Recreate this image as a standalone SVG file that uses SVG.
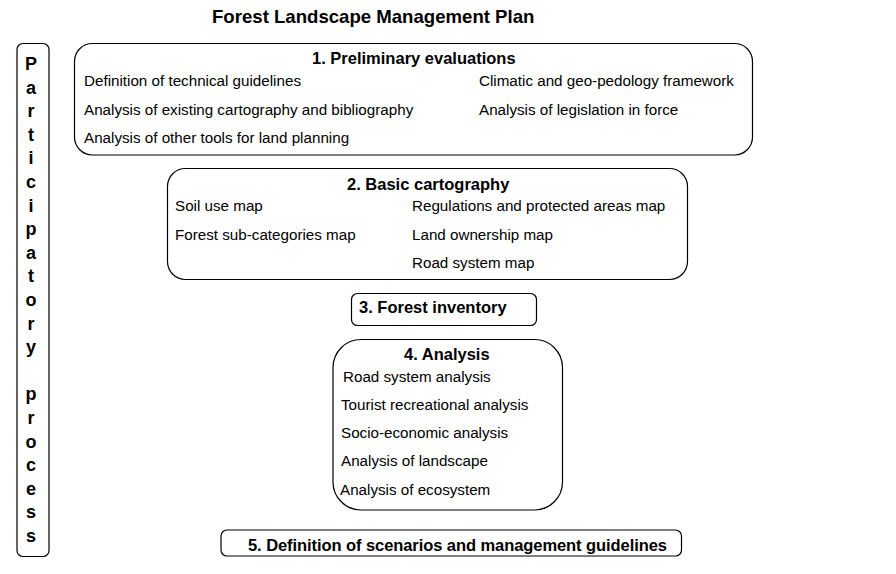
<svg xmlns="http://www.w3.org/2000/svg" width="896" height="574" viewBox="0 0 896 574">
<style>
.box{fill:#fff;stroke:#000;stroke-width:1.2}
.h{font-family:"Liberation Sans",Arial,sans-serif;font-weight:bold;font-size:16.5px;fill:#000}
.t{font-family:"Liberation Sans",Arial,sans-serif;font-size:15.2px;fill:#000}
.v{font-family:"Liberation Sans",Arial,sans-serif;font-weight:bold;font-size:18px;fill:#000;text-anchor:middle}
</style>
<rect width="896" height="574" fill="#fff"/>
<text id="title" x="212" y="23" font-family="'Liberation Sans',Arial,sans-serif" font-weight="bold" font-size="18.6">Forest Landscape Management Plan</text>
<g id="participatory">
<rect class="box" x="17" y="43.5" width="32" height="513" rx="6"/>
<text class="v" x="31" y="70">P</text>
<text class="v" x="31" y="93.6">a</text>
<text class="v" x="31" y="117.2">r</text>
<text class="v" x="31" y="140.8">t</text>
<text class="v" x="31" y="164.4">i</text>
<text class="v" x="31" y="188">c</text>
<text class="v" x="31" y="211.6">i</text>
<text class="v" x="31" y="235.2">p</text>
<text class="v" x="31" y="258.8">a</text>
<text class="v" x="31" y="282.4">t</text>
<text class="v" x="31" y="306">o</text>
<text class="v" x="31" y="329.6">r</text>
<text class="v" x="31" y="353.2">y</text>
<text class="v" x="31" y="400.4">p</text>
<text class="v" x="31" y="424">r</text>
<text class="v" x="31" y="447.6">o</text>
<text class="v" x="31" y="471.2">c</text>
<text class="v" x="31" y="494.8">e</text>
<text class="v" x="31" y="518.4">s</text>
<text class="v" x="31" y="542">s</text>
</g>
<g id="n1">
<rect class="box" x="74.5" y="43.5" width="678" height="111.5" rx="18"/>
<text class="h" x="312" y="64">1. Preliminary evaluations</text>
<text class="t" x="84" y="86">Definition of technical guidelines</text>
<text class="t" x="84" y="114.5">Analysis of existing cartography and bibliography</text>
<text class="t" x="84" y="143">Analysis of other tools for land planning</text>
<text class="t" x="479" y="86">Climatic and geo-pedology framework</text>
<text class="t" x="479" y="114.5">Analysis of legislation in force</text>
</g>
<g id="n2">
<rect class="box" x="167.5" y="168.5" width="520" height="111" rx="18"/>
<text class="h" x="347" y="190">2. Basic cartography</text>
<text class="t" x="175" y="211">Soil use map</text>
<text class="t" x="175" y="239.5">Forest sub-categories map</text>
<text class="t" x="412" y="211">Regulations and protected areas map</text>
<text class="t" x="412" y="239.5">Land ownership map</text>
<text class="t" x="412" y="268">Road system map</text>
</g>
<g id="n3">
<rect class="box" x="351.5" y="293.5" width="185" height="32" rx="6"/>
<text class="h" x="359" y="313">3. Forest inventory</text>
</g>
<g id="n4">
<rect class="box" x="333" y="339.5" width="229.5" height="170.5" rx="28"/>
<text class="h" x="404" y="360">4. Analysis</text>
<text class="t" x="343" y="381.5">Road system analysis</text>
<text class="t" x="341" y="410">Tourist recreational analysis</text>
<text class="t" x="341" y="438">Socio-economic analysis</text>
<text class="t" x="341" y="466">Analysis of landscape</text>
<text class="t" x="340" y="494.5">Analysis of ecosystem</text>
</g>
<g id="n5">
<rect class="box" x="221" y="530" width="460.5" height="26" rx="6"/>
<text class="h" x="248" y="551" textLength="419" lengthAdjust="spacing">5. Definition of scenarios and management guidelines</text>
</g>
<g id="connectors"/>
</svg>
